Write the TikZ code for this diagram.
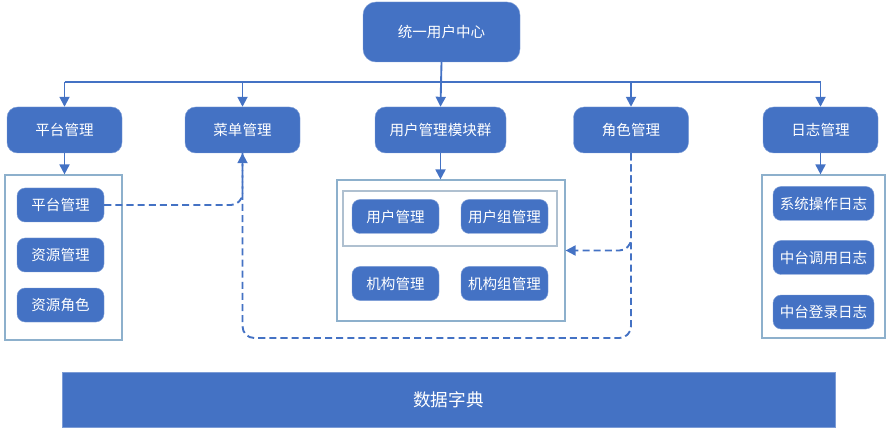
\documentclass[tikz,border=0pt]{standalone}
\usepackage{fontspec}
\newfontfamily\cjk{Noto Sans CJK SC}
\usepackage{tikz}
\usetikzlibrary{arrows.meta,calc}
\definecolor{boxblue}{HTML}{4472C4}
\definecolor{frameblue}{HTML}{8DB0CC}
\definecolor{groupgrey}{HTML}{AFC0D0}

\begin{document}
\begin{tikzpicture}[x=0.03cm,y=-0.03cm,
    blk/.style={rectangle, rounded corners=9, fill=boxblue, draw=boxblue!70!white, line width=0.4pt,
        text=white, font=\cjk\fontsize{12.4}{14}\selectfont, inner sep=0pt},
    head/.style={blk, minimum width=115*0.03cm, minimum height=46*0.03cm},
    item/.style={blk, rounded corners=7, minimum width=87*0.03cm, minimum height=34*0.03cm},
    frame/.style={rectangle, draw=frameblue, line width=1pt, fill=white, inner sep=0pt},
    conn/.style={boxblue, line width=1.6pt},
    tip/.style={-{Triangle[length=8.5pt,width=8.5pt]}},
    arr/.style={conn, tip},
    dline/.style={conn, dash pattern=on 6pt off 3.5pt, rounded corners=10}]

    \useasboundingbox (0,0) rectangle (895,428);

    % top
    \node[blk, minimum width=157*0.03cm, minimum height=60*0.03cm, rounded corners=11] (center) at (441.5,32) {统一用户中心};

    % second row
    \node[head] (plat) at (64.5,130) {平台管理};
    \node[head] (menu) at (242.5,130) {菜单管理};
    \node[head, minimum width=131*0.03cm] (users) at (440.5,130) {用户管理模块群};
    \node[head] (role) at (631,130) {角色管理};
    \node[head] (log) at (820.5,130) {日志管理};

    \coordinate (busL) at (64.5,82);
    \coordinate (busR) at (820.5,82);
    \draw[conn] (busL) -- (busR);
    \draw[arr] (center.south) -- (users.north);
    \draw[arr] (busL) -- (plat.north);
    \draw[arr] (menu.north |- busL) -- (menu.north);
    \draw[arr] (role.north |- busL) -- (role.north);
    \draw[arr] (busR) -- (log.north);

    % containers
    \node[frame, minimum width=117*0.03cm, minimum height=165*0.03cm] (platbox) at (63.5,257.5) {};
    \node[frame, minimum width=228*0.03cm, minimum height=141*0.03cm] (userbox) at (451,250.5) {};
    \node[frame, draw=groupgrey, minimum width=214*0.03cm, minimum height=55*0.03cm] (usergrp) at (450,218.5) {};
    \node[frame, minimum width=123*0.03cm, minimum height=163*0.03cm] (logbox) at (823.5,256.5) {};

    \draw[arr] (plat.south) -- (plat.south |- platbox.north);
    \draw[arr] (users.south) -- (users.south |- userbox.north);
    \draw[arr] (log.south) -- (log.south |- logbox.north);

    % inner items
    \node[item] (pplat) at (60.5,205) {平台管理};
    \node[item] (pres) at (60.5,255) {资源管理};
    \node[item] (prole) at (60.5,305) {资源角色};

    \node[item] (uuser) at (395.5,216.5) {用户管理};
    \node[item] (ugroup) at (504.5,216.5) {用户组管理};
    \node[item] (uorg) at (395.5,283.5) {机构管理};
    \node[item] (uorggrp) at (504.5,283.5) {机构组管理};

    \node[item, minimum width=101*0.03cm] (lop) at (823.5,203.5) {系统操作日志};
    \node[item, minimum width=101*0.03cm] (lcall) at (823.5,257.5) {中台调用日志};
    \node[item, minimum width=101*0.03cm] (llogin) at (823.5,312) {中台登录日志};

    % dashed links
    \coordinate (roleturn) at (631,338);
    \draw[dline] (pplat.east) -| (menu.south);
    \draw[dline, tip] (role.south) -- (roleturn) -| (menu.south);
    \draw[dline, tip] (role.south) |- (userbox.east);

    % bottom
    \node[rectangle, fill=boxblue, draw=boxblue!70!white, line width=0.4pt, text=white,
        font=\cjk\fontsize{15}{17}\selectfont, minimum width=773*0.03cm, minimum height=55*0.03cm,
        inner sep=0pt] (dict) at (448.5,399.5) {数据字典};

\end{tikzpicture}
\end{document}
